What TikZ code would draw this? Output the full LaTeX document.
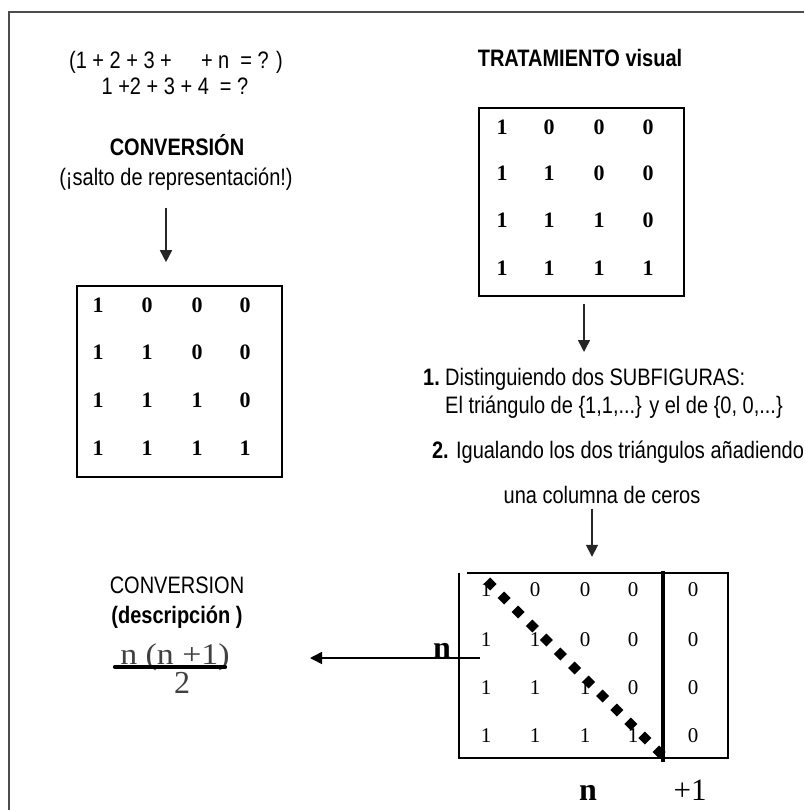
\documentclass[tikz,border=0pt]{standalone}
\usepackage{fontspec}
\setmainfont[FakeStretch=0.84]{Liberation Sans}
\newfontfamily\tnr{Liberation Serif}
\newfontfamily\tnrwide[FakeStretch=1.13]{Liberation Serif}
\usetikzlibrary{arrows.meta,calc}
\begin{document}
\begin{tikzpicture}[x=1pt,y=-1pt,
  txt/.style={inner sep=0pt, text height=17pt, text depth=0pt, font=\fontsize{23.8}{26}\selectfont},
  bold/.style={txt, font=\fontsize{23.8}{26}\selectfont\bfseries},
  dig/.style={inner sep=0pt, font=\fontsize{22}{24}\selectfont\tnr\bfseries},
  digl/.style={inner sep=0pt, font=\fontsize{21}{24}\selectfont\tnr},
  serifbig/.style={inner sep=0pt, anchor=base, font=\fontsize{31}{33}\selectfont\tnr},
  serifbold/.style={inner sep=0pt, anchor=base, font=\fontsize{32}{34}\selectfont\tnr\bfseries},
  fracnum/.style={inner sep=0pt, anchor=base, text=black!75, font=\fontsize{30}{32}\selectfont\tnrwide},
  box/.style={draw, line width=1.6pt, inner sep=0pt},
  arr/.style={draw=black!85, line width=1.6pt, -{Triangle[length=12pt,width=12pt]}},
]
\useasboundingbox (0,0) rectangle (804,810);
% frame (top and left)
\draw[line width=2.5pt, black!70] (9,810) -- (9,12) -- (804,12);

% top left texts
\node[txt] (eq1) at (176,60) {(1 + 2 + 3 + \hspace{18pt} + n \ = ? )};
\node[txt] (eq2) at (175,86) {1 +2 + 3 + 4 \ = ?};
\node[bold] (conv1) at (177,147) {CONVERSIÓN};
\node[txt] (salto) at (176,177) {(¡salto de representación!)};

% left matrix
\node[box, minimum width=205pt, minimum height=191pt] (m1) at (179.5,381.5) {};
\foreach \r/\y in {1/305,2/352,3/400,4/448}
  \foreach \c/\x in {1/98,2/147,3/197,4/245}
    \node[dig] (m1-\r\c) at (\x,\y) {\ifnum\c>\r\relax 0\else 1\fi};
\draw[arr, shorten <=22pt, shorten >=23pt] ([xshift=-10pt]salto.south) -- ([xshift=-10pt]salto.south |- m1.north);

% right top
\node[bold] (trat) at (580,58) {TRATAMIENTO visual};
\node[box, minimum width=205pt, minimum height=188pt] (m2) at (581.5,202) {};
\foreach \r/\y in {1/127,2/173,3/220,4/268}
  \foreach \c/\x in {1/502,2/549,3/599,4/648}
    \node[dig] (m2-\r\c) at (\x,\y) {\ifnum\c>\r\relax 0\else 1\fi};
\coordinate (t1) at (584,352);
\draw[arr, shorten <=7pt] (m2.south -| t1) -- (t1);

% steps
\node[bold, anchor=west] (num1) at (423,377) {1.};
\node[txt, anchor=west] (dist1) at (445,377) {Distinguiendo dos SUBFIGURAS:};
\node[txt, anchor=west] (dist2) at (445,405) {El triángulo de \{1,1,...\} y el de \{0, 0,...\}};
\node[txt] (igual) at (618,450) {\textbf{2.} Igualando los dos triángulos añadiendo};
\node[txt] (colum) at (602,495) {una columna de ceros};

% bottom matrix
\node[inner sep=0pt, minimum width=269pt, minimum height=185pt] (m3) at (593.5,665.5) {};
\draw[arr, shorten <=5pt, shorten >=16pt] ([xshift=-10pt]colum.south) -- ([xshift=-10pt]colum.south |- m3.north);
\draw[line width=1.6pt] ([xshift=8pt]m3.north west) -- (m3.north east) -- (m3.south east) -- (m3.south west) -- (m3.north west);
\coordinate (sepx) at (663,665);
\draw[line width=4pt] ([yshift=2pt]m3.north -| sepx) -- ([yshift=-4pt]m3.south -| sepx);
\foreach \r/\y in {1/590,2/640,3/688,4/736}{
  \foreach \c/\x in {1/486,2/535,3/585,4/633}
    \node[digl] (m3-\r\c) at (\x,\y) {\ifnum\c>\r\relax 0\else 1\fi};
  \node[digl] (m3-\r5) at (693,\y) {0};
}
\coordinate (dA) at (490,584);
\coordinate (dB) at (659,752);
\foreach \i in {0,...,12}
  \fill ($(dA)!\i/12!(dB)$) +(0,-6.5) -- +(6.5,0) -- +(0,6.5) -- +(-6.5,0) -- cycle;

% labels n, +1
\node[serifbold] (nl) at (442,658) {n};
\node[serifbold] (nb) at (588,800) {n};
\node[serifbig] (p1) at (690,800) {+1};
\coordinate (nst) at (480,658);
\coordinate (ntip) at (310,658);
\draw[arr, draw=black] (nst) -- (ntip);

% conversion description
\node[txt] (conv2) at (177,585) {CONVERSION};
\node[bold] (desc) at (177,615) {(descripción )};
\node[fracnum] (numer) at (175,664) {n (n +1)};
\node[fracnum, font=\fontsize{32}{34}\selectfont\tnr] (denom) at (182,693) {2};
\draw[line width=4.5pt, line cap=round] ([xshift=-5pt, yshift=-3pt]numer.base west) -- ([xshift=-5pt, yshift=-3pt]numer.base east);
\end{tikzpicture}
\end{document}
